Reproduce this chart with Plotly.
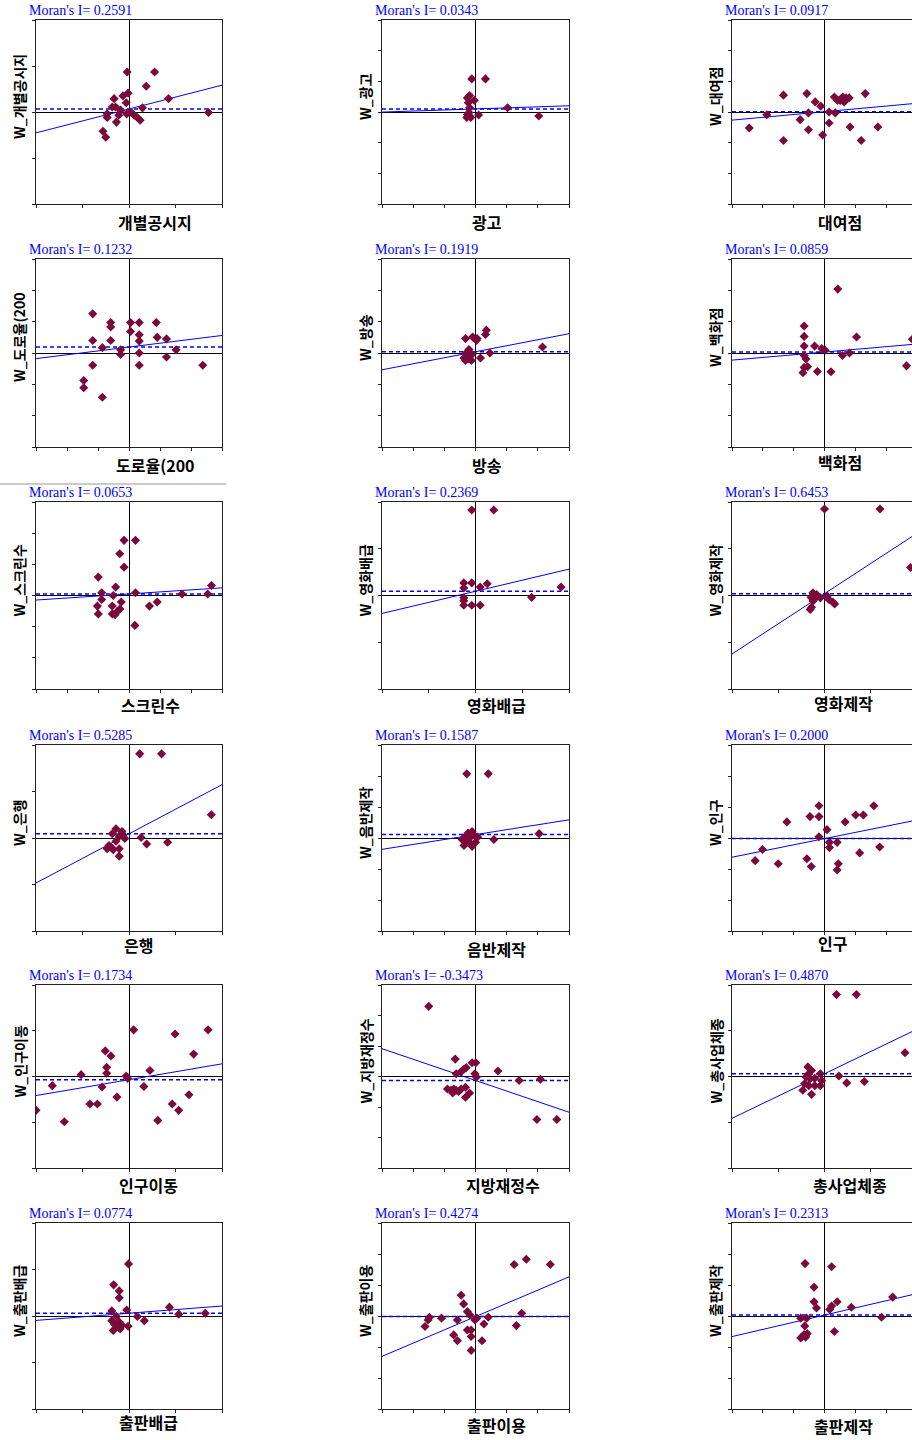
import plotly.graph_objects as go

# ---------------- data ----------------
x_names = ["개별공시지", "광고", "대여점", "도로율(200", "방송", "백화점",
           "스크린수", "영화배급", "영화제작", "은행", "음반제작", "인구",
           "인구이동", "지방재정수", "총사업체종", "출판배급", "출판이용", "출판제작"]
y_names = ["W_" + n for n in x_names]
moran_i = [0.2591, 0.0343, 0.0917, 0.1232, 0.1919, 0.0859,
           0.0653, 0.2369, 0.6453, 0.5285, 0.1587, 0.2000,
           0.1734, -0.3473, 0.4870, 0.0774, 0.4274, 0.2313]
intercepts = [0.065, 0.10, 0.01, 0.19, 0.04, 0.03,
              0.05, 0.09, 0.04, 0.09, 0.11, -0.02,
              -0.07, -0.13, 0.06, 0.06, -0.02, 0.03]
axis_limits = [2, 3, 3, 3, 3, 3, 3, 2, 2, 2, 3, 3, 2, 3, 2, 2, 3, 3]

x_vals = [
    [-0.04, 0.55, 0.37, -0.02, -0.13, -0.32, 0.85, -0.06, -0.36, -0.29, 0.29, -0.18, -0.05, -0.22, 0.11, -0.47, -0.47, 0.18, 0.24, -0.27, -0.56, -0.50, 1.71, 0.04],
    [-0.12, 0.32, -0.19, -0.26, -0.04, -0.23, -0.19, -0.26, -0.19, -0.28, -0.15, 0.10, 1.03, 2.03, -0.21],
    [-2.44, -1.87, -1.33, -1.33, -0.79, -0.57, -0.52, -0.52, -0.30, -0.12, -0.06, 0.15, 0.15, 0.35, 0.32, 0.42, 0.51, 0.59, 0.64, 0.70, 0.80, 0.83, 1.19, 1.32, 1.73],
    [-1.17, -0.59, -0.59, -1.17, -0.59, -0.86, -0.27, -0.27, 0.05, 0.33, 0.05, 0.33, 0.33, 0.33, 0.88, 0.91, 1.21, 1.52, 1.21, 0.33, -1.17, 2.38, -1.46, -1.46, -0.86],
    [-0.32, -0.09, 0.05, 0.03, 0.32, 0.35, -0.21, -0.30, -0.27, -0.21, -0.37, -0.13, 0.16, 0.46, 2.15, -0.11, -0.32],
    [-0.66, -0.66, 0.43, -0.66, -0.32, -0.09, 0.02, 1.04, -0.66, -0.60, -0.66, -0.55, -0.23, 0.21, 0.58, 0.81, 2.66, 2.85, -0.70],
    [-0.16, 0.21, -0.30, -0.16, -0.99, -0.43, -0.88, -0.51, 0.21, -0.88, -1.02, -0.54, -0.25, -0.99, -0.54, -0.45, -0.38, -0.29, 0.66, 0.91, 0.19, 1.71, 2.54, 2.66],
    [-0.08, 0.39, -0.25, -0.08, 0.25, 0.10, -0.25, -0.25, -0.25, -0.25, -0.08, 0.10, 1.83, 1.20],
    [0.00, 1.20, 1.86, -0.25, -0.29, -0.21, -0.09, -0.25, -0.28, -0.31, 0.10, 0.18, 0.22, 0.06, -0.17],
    [0.23, 0.70, 1.77, -0.28, -0.15, -0.36, -0.21, -0.09, -0.28, -0.43, -0.47, -0.34, -0.21, -0.38, -0.21, 0.26, 0.38, 0.83, -0.13],
    [-0.28, 0.41, 2.04, 0.59, -0.33, -0.24, -0.11, -0.06, -0.33, -0.37, -0.15, 0.00, -0.19, -0.43, -0.11, 0.07],
    [-2.25, -2.01, -1.50, -1.22, -0.57, -0.47, -0.43, -0.18, -0.18, -0.18, 0.08, 0.16, 0.16, 0.41, 0.45, 0.41, 0.67, 1.01, 1.26, 1.60, 1.14, 1.79],
    [0.10, 0.99, 1.70, 1.39, -0.51, -0.39, -0.48, -0.48, 0.45, -1.03, -0.06, -0.03, -1.65, -0.58, 0.32, -0.26, -0.84, -0.68, 0.93, 1.29, 1.07, 0.62, -1.39, -2.00],
    [-1.50, -0.65, -0.62, -0.46, -0.37, -0.30, -0.11, 0.01, -0.02, 0.03, 0.72, 1.40, 2.08, -0.90, -0.79, -0.70, -0.62, -0.54, -0.46, -0.32, -0.19, -0.32, 1.97, 2.61, -0.73],
    [0.26, 0.69, 1.74, -0.36, -0.28, -0.34, -0.40, -0.31, -0.21, -0.09, -0.43, -0.34, -0.21, -0.09, -0.47, -0.28, 0.31, 0.48, 0.86, -0.06],
    [-0.01, -0.33, -0.21, -0.21, -0.37, -0.05, -0.27, 0.18, 0.33, -0.37, -0.31, -0.21, -0.26, -0.19, -0.34, -0.02, 0.87, 1.07, 1.64, -0.15],
    [1.24, 1.63, 2.40, -0.46, -0.38, -0.26, -0.18, -0.58, -1.09, -1.48, -1.52, -1.62, 0.04, 0.27, 0.41, -0.26, -0.14, -0.14, -0.70, -0.58, -0.14, 0.21, 1.31, 1.48, -0.02],
    [-0.63, 0.23, -0.34, -0.34, -0.26, 0.41, 0.23, 0.17, 0.87, 2.21, 1.85, -0.77, -0.58, -0.64, 0.32, -0.77, -0.66, -0.56, -0.72, -0.61],
]
y_vals = [
    [0.87, 0.87, 0.56, 0.41, 0.35, 0.29, 0.29, 0.20, 0.11, 0.11, 0.09, 0.04, -0.04, -0.07, -0.07, -0.04, -0.12, -0.12, -0.18, -0.22, -0.42, -0.55, -0.01, 0.00],
    [1.08, 1.08, 0.54, 0.46, 0.38, 0.30, 0.14, -0.08, -0.13, -0.18, -0.18, -0.10, 0.14, -0.13, -0.02],
    [-0.52, -0.09, 0.55, -0.93, -0.25, 0.60, -0.03, -0.58, 0.33, 0.19, -0.75, 0.00, -0.36, -0.03, 0.49, 0.38, 0.38, 0.49, 0.33, 0.46, 0.46, -0.49, -0.93, 0.60, -0.49],
    [1.25, 0.97, 0.83, 0.40, 0.40, 0.17, 0.10, -0.05, 0.97, 0.97, 0.69, 0.58, 0.38, 0.00, 0.97, 0.50, 0.45, 0.10, -0.13, -0.39, -0.39, -0.39, -0.88, -1.11, -1.41],
    [0.46, 0.51, 0.46, 0.40, 0.59, 0.73, 0.11, 0.00, -0.11, -0.19, -0.16, -0.24, -0.16, 0.00, 0.19, -0.05, -0.24],
    [0.86, 0.53, 2.04, 0.22, 0.22, 0.14, 0.09, 0.51, -0.08, -0.19, -0.46, -0.44, -0.59, -0.60, -0.08, 0.00, -0.41, 0.44, -0.63],
    [1.77, 1.77, 1.34, 0.91, 0.59, 0.27, 0.09, 0.00, 0.09, -0.13, -0.34, -0.34, -0.21, -0.59, -0.59, -0.62, -0.51, -0.43, -0.34, -0.21, -0.96, 0.05, 0.05, 0.32],
    [1.83, 1.83, 0.27, 0.27, 0.25, 0.18, 0.16, -0.05, -0.11, -0.21, -0.21, -0.21, 0.18, -0.04],
    [1.85, 1.85, 0.60, 0.06, -0.04, -0.07, -0.05, -0.12, -0.25, -0.30, -0.09, -0.14, -0.18, -0.01, 0.02],
    [1.81, 1.81, 0.50, 0.20, 0.14, 0.09, 0.04, -0.01, -0.07, -0.16, -0.23, -0.25, -0.23, -0.20, -0.39, 0.01, -0.13, -0.09, 0.07],
    [2.07, 2.07, 0.14, -0.05, 0.05, 0.16, 0.21, 0.11, -0.11, -0.24, -0.18, -0.14, 0.00, -0.05, -0.27, 0.03],
    [-0.73, -0.37, -0.83, 0.52, -0.67, 0.69, -0.92, 0.69, 1.04, 0.04, 0.27, -0.14, -0.31, -0.14, -0.83, -1.03, 0.52, 0.74, 0.74, 1.04, -0.48, -0.29],
    [1.02, 0.93, 1.02, 0.49, 0.56, 0.45, 0.20, 0.07, 0.13, 0.04, 0.01, -0.04, -0.20, -0.23, -0.22, -0.45, -0.60, -0.60, -0.60, -0.40, -0.74, -0.96, -0.99, -0.74],
    [2.30, 0.57, 0.09, 0.16, 0.24, 0.29, 0.45, 0.45, 0.09, -0.02, 0.18, -0.13, -0.09, -0.41, -0.45, -0.41, -0.45, -0.49, -0.41, -0.35, -0.54, -0.68, -1.41, -1.41, -0.54],
    [1.79, 1.79, 0.52, 0.21, 0.13, 0.06, -0.01, -0.05, -0.04, 0.06, -0.16, -0.20, -0.20, -0.20, -0.30, -0.39, 0.01, -0.14, -0.11, -0.09],
    [1.12, 0.67, 0.54, 0.39, 0.11, 0.13, -0.01, -0.01, -0.10, -0.10, -0.18, -0.13, -0.22, -0.28, -0.31, -0.22, 0.19, 0.04, 0.06, -0.20],
    [1.66, 1.83, 1.66, 0.67, 0.39, 0.14, 0.03, -0.13, -0.07, -0.04, -0.13, -0.34, -0.07, -0.26, -0.04, -0.45, -0.45, -0.66, -0.61, -0.80, -1.11, -0.80, -0.31, 0.09, -0.13],
    [1.69, 1.59, 0.93, 0.46, 0.26, 0.46, 0.32, 0.21, 0.28, 0.61, -0.04, -0.07, -0.07, -0.32, -0.50, -0.71, -0.60, -0.57, -0.66, -0.68],
]

# ---------------- layout geometry (page pixels) ----------------
W, H = 912, 1440
col_left = [36, 382, 732]
col_right = [222, 569, 917]     # right column extends past the page edge
row_top = [20, 259, 502, 745, 985, 1223]
row_bottom = [204, 447, 689, 931, 1168, 1409]
xtitle_cx = [155, 487, 840, 155, 487, 840, 150, 497, 843,
             138, 497, 833, 148, 503, 850, 148, 497, 843]
xtitle_cy = [222, 222, 222, 465, 465, 462, 705, 705, 703,
             945, 949, 943, 1185, 1185, 1185, 1422, 1425, 1426]


def px(v):
    return v / W


def py(v):
    return 1 - v / H


MARKER = "#7B0A3C"
BLUE = "#0000FF"
AXC = "#222222"

fig = go.Figure()
annotations = []
shapes = []

for i in range(18):
    r, c = divmod(i, 3)
    lim = axis_limits[i]
    left, right = col_left[c], col_right[c]
    top, bottom = row_top[r], row_bottom[r]
    vis_right = min(right, W)
    unit = (right - left) / (2 * lim)
    xmax = lim - (right - vis_right) / unit
    sfx = "" if i == 0 else str(i + 1)
    xa, ya = "x" + sfx, "y" + sfx

    xs = [-lim, xmax]
    fig.add_trace(go.Scatter(x=xs, y=[intercepts[i]] * 2, mode="lines",
                             line=dict(color=BLUE, width=1.5, dash="4px,3px"),
                             xaxis=xa, yaxis=ya, showlegend=False, hoverinfo="skip"))
    fig.add_trace(go.Scatter(x=xs, y=[moran_i[i] * v + intercepts[i] for v in xs], mode="lines",
                             line=dict(color=BLUE, width=1),
                             xaxis=xa, yaxis=ya, showlegend=False, hoverinfo="skip"))
    fig.add_trace(go.Scatter(x=x_vals[i], y=y_vals[i], mode="markers",
                             marker=dict(symbol="diamond", size=7, color=MARKER),
                             xaxis=xa, yaxis=ya, showlegend=False))

    common = dict(showgrid=False, zeroline=True, zerolinecolor="#000000", zerolinewidth=1,
                  showline=True, linecolor=AXC, linewidth=1, ticks="outside",
                  ticklen=3, tickcolor=AXC, showticklabels=False, dtick=1, fixedrange=True)
    fig.layout["xaxis" + sfx] = dict(common, domain=[px(left), min(px(vis_right), 1)],
                                     range=[-lim, xmax], anchor=ya, mirror=True)
    fig.layout["yaxis" + sfx] = dict(common, domain=[py(bottom), py(top)],
                                     range=[-lim, lim], anchor=xa,
                                     mirror=(right <= W))

    annotations.append(dict(text="Moran's I= %.4f" % moran_i[i], xref="paper", yref="paper",
                            x=px(left - 8), y=py(top - 1), xanchor="left", yanchor="bottom",
                            showarrow=False, borderpad=0,
                            font=dict(family="Liberation Serif", size=14, color=BLUE)))
    annotations.append(dict(text="<b>" + x_names[i] + "</b>", xref="paper", yref="paper",
                            x=px(xtitle_cx[i]), y=py(xtitle_cy[i]), xanchor="center",
                            yanchor="middle", showarrow=False, borderpad=0,
                            font=dict(family="Noto Sans CJK KR", size=16, color="#000000")))
    annotations.append(dict(text="<b>" + y_names[i] + "</b>", xref="paper", yref="paper",
                            x=px(left - 17), y=py((top + bottom) / 2 - 15),
                            xanchor="center", yanchor="middle", textangle=-90, showarrow=False,
                            borderpad=0,
                            font=dict(family="Noto Sans CJK KR", size=14, color="#000000")))

# thin separator line seen above the 스크린수 panel
shapes.append(dict(type="line", xref="paper", yref="paper", x0=0, x1=px(226),
                   y0=py(484), y1=py(484), line=dict(color="#999999", width=1)))

fig.update_layout(width=W, height=H, margin=dict(l=0, r=0, t=0, b=0),
                  paper_bgcolor="white", plot_bgcolor="white",
                  annotations=annotations, shapes=shapes)

# remove the default 8px page margin so the figure fills the window exactly
fig.write_html("out.html", config={"displayModeBar": False},
               post_script="document.body.style.margin='0';document.body.style.overflow='hidden';")
